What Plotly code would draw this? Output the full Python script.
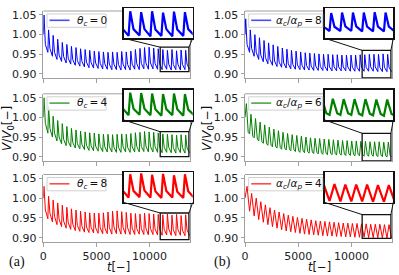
import plotly.graph_objects as go

W, H = 399, 275

# ---------------- data ----------------
cycle_t = [0, 430, 860, 1290, 1720, 2150, 2580, 3010, 3440, 3870, 4300, 4730,
           5160, 5590, 6020, 6450, 6880, 7310, 7740, 8170, 8600, 9030, 9460,
           9890, 10320, 10750, 11180, 11610, 12040, 12470, 12900, 13330]
t_end = 13760

a1_trough = [1.000, 0.955, 0.945, 0.937, 0.932, 0.928, 0.925, 0.922, 0.920, 0.918, 0.916, 0.915, 0.914, 0.913, 0.912, 0.911,
             0.911, 0.910, 0.911, 0.910, 0.912, 0.911, 0.913, 0.912, 0.913, 0.912, 0.911, 0.912, 0.910, 0.911, 0.910, 0.911, 0.912]
a1_peak = [1.050, 1.012, 0.998, 0.988, 0.980, 0.975, 0.970, 0.967, 0.964, 0.962, 0.960, 0.958, 0.957, 0.956, 0.955, 0.956,
           0.955, 0.957, 0.956, 0.958, 0.962, 0.965, 0.967, 0.968, 0.966, 0.964, 0.962, 0.960, 0.962, 0.959, 0.961, 0.960]
a1_shoulder = [0.975, 0.965, 0.955, 0.948, 0.944, 0.940, 0.936, 0.934, 0.932, 0.930, 0.929, 0.928, 0.927, 0.926, 0.925, 0.925,
               0.924, 0.925, 0.924, 0.925, 0.926, 0.927, 0.928, 0.928, 0.927, 0.926, 0.925, 0.925, 0.924, 0.925, 0.924, 0.925]

a2_trough = [1.000, 0.960, 0.950, 0.940, 0.933, 0.928, 0.925, 0.922, 0.920, 0.918, 0.916, 0.915, 0.914, 0.913, 0.912, 0.912,
             0.911, 0.911, 0.912, 0.911, 0.912, 0.912, 0.913, 0.912, 0.912, 0.911, 0.910, 0.911, 0.910, 0.909, 0.910, 0.909, 0.910]
a2_peak = [1.050, 1.028, 1.003, 0.992, 0.984, 0.977, 0.972, 0.968, 0.965, 0.963, 0.961, 0.960, 0.958, 0.957, 0.957, 0.956,
           0.957, 0.958, 0.957, 0.959, 0.961, 0.962, 0.964, 0.963, 0.962, 0.960, 0.958, 0.957, 0.956, 0.955, 0.956, 0.955]
a2_shoulder = [0.985, 0.972, 0.960, 0.950, 0.944, 0.939, 0.936, 0.933, 0.931, 0.929, 0.928, 0.927, 0.926, 0.925, 0.925, 0.924,
               0.924, 0.925, 0.924, 0.925, 0.926, 0.926, 0.927, 0.926, 0.926, 0.925, 0.924, 0.924, 0.923, 0.923, 0.923, 0.922]

a3_trough = [1.000, 0.948, 0.940, 0.933, 0.928, 0.924, 0.921, 0.918, 0.916, 0.914, 0.913, 0.912, 0.911, 0.910, 0.910, 0.909,
             0.910, 0.909, 0.909, 0.908, 0.908, 0.909, 0.908, 0.907, 0.908, 0.907, 0.906, 0.907, 0.906, 0.905, 0.906, 0.905, 0.905]
a3_peak = [1.030, 1.005, 0.995, 0.988, 0.982, 0.977, 0.973, 0.970, 0.967, 0.965, 0.963, 0.962, 0.962, 0.963, 0.965, 0.967,
           0.968, 0.966, 0.964, 0.962, 0.961, 0.960, 0.962, 0.961, 0.960, 0.959, 0.958, 0.960, 0.957, 0.959, 0.956, 0.958]
a3_shoulder = [0.970, 0.962, 0.954, 0.947, 0.942, 0.938, 0.934, 0.931, 0.929, 0.927, 0.926, 0.925, 0.925, 0.925, 0.926, 0.927,
               0.927, 0.926, 0.925, 0.924, 0.923, 0.923, 0.924, 0.923, 0.922, 0.922, 0.921, 0.922, 0.920, 0.921, 0.919, 0.920]

b1_trough = [1.000, 0.955, 0.945, 0.937, 0.931, 0.926, 0.922, 0.919, 0.917, 0.915, 0.913, 0.912, 0.911, 0.910, 0.910, 0.909,
             0.909, 0.909, 0.908, 0.908, 0.908, 0.908, 0.908, 0.907, 0.907, 0.907, 0.907, 0.907, 0.907, 0.906, 0.906, 0.906, 0.906]
b1_peak = [1.040, 1.012, 1.000, 0.992, 0.985, 0.979, 0.974, 0.970, 0.966, 0.963, 0.960, 0.958, 0.956, 0.954, 0.953, 0.952,
           0.951, 0.950, 0.950, 0.949, 0.949, 0.948, 0.948, 0.948, 0.948, 0.949, 0.949, 0.950, 0.950, 0.950, 0.951, 0.950]
b1_shoulder = [0.975, 0.965, 0.955, 0.948, 0.942, 0.937, 0.933, 0.930, 0.928, 0.926, 0.924, 0.923, 0.922, 0.921, 0.920, 0.920,
               0.919, 0.919, 0.918, 0.918, 0.918, 0.918, 0.918, 0.917, 0.917, 0.917, 0.917, 0.918, 0.918, 0.917, 0.917, 0.917]

b2_trough = [1.000, 0.958, 0.948, 0.940, 0.934, 0.929, 0.925, 0.922, 0.919, 0.917, 0.915, 0.913, 0.911, 0.910, 0.909, 0.908,
             0.907, 0.906, 0.905, 0.905, 0.904, 0.904, 0.903, 0.903, 0.902, 0.902, 0.901, 0.901, 0.901, 0.900, 0.900, 0.899, 0.899]
b2_peak = [1.035, 1.008, 0.997, 0.988, 0.981, 0.975, 0.970, 0.966, 0.962, 0.959, 0.956, 0.954, 0.952, 0.950, 0.948, 0.947,
           0.946, 0.945, 0.944, 0.943, 0.942, 0.941, 0.941, 0.940, 0.940, 0.939, 0.939, 0.938, 0.938, 0.938, 0.937, 0.937]
b2_shoulder = [0.962, 0.952, 0.944, 0.938, 0.933, 0.929, 0.926, 0.923, 0.921, 0.919, 0.917, 0.915, 0.914, 0.913, 0.912, 0.911,
               0.910, 0.909, 0.909, 0.908, 0.908, 0.907, 0.907, 0.906, 0.906, 0.905, 0.905, 0.905, 0.904, 0.904, 0.903, 0.903]

b3_trough = [1.000, 0.967, 0.955, 0.946, 0.939, 0.933, 0.928, 0.924, 0.920, 0.917, 0.915, 0.913, 0.911, 0.909, 0.908, 0.907,
             0.906, 0.905, 0.904, 0.904, 0.903, 0.903, 0.902, 0.902, 0.901, 0.901, 0.901, 0.900, 0.900, 0.900, 0.899, 0.899, 0.899]
b3_peak = [1.030, 1.012, 1.000, 0.991, 0.983, 0.976, 0.970, 0.965, 0.961, 0.957, 0.954, 0.951, 0.949, 0.947, 0.945, 0.943,
           0.942, 0.941, 0.940, 0.939, 0.938, 0.937, 0.937, 0.936, 0.936, 0.935, 0.935, 0.934, 0.934, 0.934, 0.933, 0.933]
b3_shoulder = [0.998, 0.990, 0.978, 0.969, 0.961, 0.955, 0.949, 0.944, 0.940, 0.936, 0.933, 0.931, 0.929, 0.927, 0.925, 0.924,
               0.923, 0.922, 0.921, 0.920, 0.920, 0.919, 0.919, 0.918, 0.918, 0.918, 0.917, 0.917, 0.917, 0.916, 0.916, 0.916]

TS = "\u2009"
legend_labels = [f"<i>θ</i><sub><i>c</i></sub>{TS}={TS}0", f"<i>θ</i><sub><i>c</i></sub>{TS}={TS}4",
                 f"<i>θ</i><sub><i>c</i></sub>{TS}={TS}8",
                 f"<i>α</i><sub><i>c</i></sub>/<i>α</i><sub><i>p</i></sub>{TS}={TS}8",
                 f"<i>α</i><sub><i>c</i></sub>/<i>α</i><sub><i>p</i></sub>{TS}={TS}6",
                 f"<i>α</i><sub><i>c</i></sub>/<i>α</i><sub><i>p</i></sub>{TS}={TS}4"]
x_ticks = [0, 5000, 10000]
x_ticktext = ["0", "5000", "10000"]
y_ticks = [0.90, 0.95, 1.00, 1.05]
y_ticktext = ["0.90", "0.95", "1.00", "1.05"]
zoom_t = [11000, 13700]
zoom_v = [[0.906, 0.968], [0.900, 0.9635], [0.895, 0.9625],
          [0.890, 0.960], [0.889, 0.9595], [0.898, 0.9585]]

# ---------------- styling / layout ----------------
XR = [0, 13850]
YR = [0.889, 1.060]
FONT = "DejaVu Sans"
SPINE = "#a0a0a0"
col_px = [(43.3, 190.5), (245.0, 392.5)]
row_px = [(11.0, 78.3), (93.8, 161.0), (174.5, 242.0)]
ins_col_px = [(124.0, 192.7), (325.0, 393.3)]
ins_row_px = [(8.3, 38.3), (90.0, 120.0), (172.3, 202.5)]

panels = [
    dict(col=0, row=0, color="#0000ff", tr=a1_trough, pk=a1_peak, sh=a1_shoulder, fp=0.15, fs=0.45),
    dict(col=0, row=1, color="#008000", tr=a2_trough, pk=a2_peak, sh=a2_shoulder, fp=0.15, fs=0.45),
    dict(col=0, row=2, color="#ff0000", tr=a3_trough, pk=a3_peak, sh=a3_shoulder, fp=0.15, fs=0.45),
    dict(col=1, row=0, color="#0000ff", tr=b1_trough, pk=b1_peak, sh=b1_shoulder, fp=0.15, fs=0.45),
    dict(col=1, row=1, color="#008000", tr=b2_trough, pk=b2_peak, sh=b2_shoulder, fp=0.30, fs=0.70),
    dict(col=1, row=2, color="#ff0000", tr=b3_trough, pk=b3_peak, sh=b3_shoulder, fp=0.45, fs=0.72),
]


def px(x):
    return x / W


def py(y):
    return 1 - y / H


def build_series(tr, pk, sh, fp, fs):
    ts, vs = [], []
    for k, t0 in enumerate(cycle_t):
        nxt = cycle_t[k + 1] if k + 1 < len(cycle_t) else t_end
        p = nxt - t0
        ts += [t0, t0 + fp * p, t0 + fs * p]
        vs += [tr[k], pk[k], sh[k]]
    ts.append(t_end)
    vs.append(tr[-1])
    return ts, vs


fig = go.Figure()
layout = {}
shapes = []
annotations = []

for i, p in enumerate(panels):
    n_main = i + 1
    n_ins = i + 7
    ts, vs = build_series(p["tr"], p["pk"], p["sh"], p["fp"], p["fs"])
    fig.add_trace(go.Scatter(x=ts, y=vs, mode="lines", line=dict(color=p["color"], width=1.0),
                             xaxis=f"x{n_main}", yaxis=f"y{n_main}", showlegend=False, hoverinfo="skip"))
    fig.add_trace(go.Scatter(x=ts, y=vs, mode="lines", line=dict(color=p["color"], width=2.2),
                             xaxis=f"x{n_ins}", yaxis=f"y{n_ins}", showlegend=False, hoverinfo="skip"))

    cx0, cx1 = col_px[p["col"]]
    ry0, ry1 = row_px[p["row"]]
    ix0, ix1 = ins_col_px[p["col"]]
    iy0, iy1 = ins_row_px[p["row"]]
    xk = "xaxis" if n_main == 1 else f"xaxis{n_main}"
    yk = "yaxis" if n_main == 1 else f"yaxis{n_main}"
    bottom = p["row"] == 2
    layout[xk] = dict(domain=[px(cx0), px(cx1)], anchor=f"y{n_main}", range=XR, showgrid=False, zeroline=False,
                      showline=True, mirror=False, linecolor=SPINE, linewidth=1, automargin=False,
                      ticks="outside", ticklen=3.5, tickcolor=SPINE, tickvals=x_ticks, ticktext=x_ticktext,
                      showticklabels=bottom, tickfont=dict(family=FONT, size=11, color="#222"))
    layout[yk] = dict(domain=[py(ry1), py(ry0)], anchor=f"x{n_main}", range=YR, showgrid=False, zeroline=False,
                      showline=True, mirror=False, linecolor=SPINE, linewidth=1, automargin=False,
                      ticks="outside", ticklen=3.5, tickcolor=SPINE, tickvals=y_ticks, ticktext=y_ticktext,
                      tickfont=dict(family=FONT, size=11, color="#222"))
    # top and right spines, only where the inset does not cover them
    shapes.append(dict(type="line", xref="paper", yref="paper", x0=px(cx0), x1=px(ix0), y0=py(ry0), y1=py(ry0),
                       line=dict(color=SPINE, width=1), layer="below"))
    shapes.append(dict(type="line", xref="paper", yref="paper", x0=px(cx1), x1=px(cx1), y0=py(iy1), y1=py(ry1),
                       line=dict(color=SPINE, width=1), layer="below"))
    zv = zoom_v[i]
    layout[f"xaxis{n_ins}"] = dict(domain=[px(ix0), px(ix1)], anchor=f"y{n_ins}", range=zoom_t, showgrid=False,
                                   zeroline=False, showline=True, mirror=True, linecolor="#111", linewidth=1.6,
                                   ticks="", showticklabels=False, automargin=False)
    layout[f"yaxis{n_ins}"] = dict(domain=[py(iy1), py(iy0)], anchor=f"x{n_ins}", range=zv, showgrid=False,
                                   zeroline=False, showline=True, mirror=True, linecolor="#111", linewidth=1.6,
                                   ticks="", showticklabels=False, automargin=False)
    # zoom box in the main axes
    shapes.append(dict(type="rect", xref=f"x{n_main}", yref=f"y{n_main}", x0=zoom_t[0], x1=zoom_t[1],
                       y0=zv[0], y1=zv[1], line=dict(color="#111", width=1.3), layer="above"))
    # connectors
    bx0 = cx0 + (zoom_t[0] - XR[0]) / (XR[1] - XR[0]) * (cx1 - cx0)
    bx1 = cx0 + (zoom_t[1] - XR[0]) / (XR[1] - XR[0]) * (cx1 - cx0)
    by = ry1 - (zv[1] - YR[0]) / (YR[1] - YR[0]) * (ry1 - ry0)
    shapes.append(dict(type="line", xref="paper", yref="paper", x0=px(ix0), y0=py(iy1), x1=px(bx0), y1=py(by),
                       line=dict(color="#111", width=1), layer="above"))
    shapes.append(dict(type="line", xref="paper", yref="paper", x0=px(ix1), y0=py(iy1), x1=px(bx1), y1=py(by),
                       line=dict(color="#111", width=1), layer="above"))
    # legend box
    lw = 59 if p["col"] == 0 else 74
    lx0 = cx0 + 3.7
    shapes.append(dict(type="rect", xref="paper", yref="paper", x0=px(lx0), x1=px(lx0 + lw),
                       y0=py(ry0 + 16.3), y1=py(ry0 + 3), fillcolor="rgba(255,255,255,0.85)",
                       line=dict(color="#d0d0d0", width=1), layer="above"))
    shapes.append(dict(type="line", xref="paper", yref="paper", x0=px(lx0 + 2.5), x1=px(lx0 + 22.5),
                       y0=py(ry0 + 9.3), y1=py(ry0 + 9.3), line=dict(color=p["color"], width=1.6), layer="above",
                       opacity=0.7))
    annotations.append(dict(xref="paper", yref="paper", x=px(lx0 + 28 if p["col"] == 0 else lx0 + 25),
                            y=py(ry0 + 9.6), xanchor="left", yanchor="middle", showarrow=False,
                            text=legend_labels[i], font=dict(family=FONT, size=10.5, color="#111")))

annotations += [
    dict(xref="paper", yref="paper", x=px(8), y=py(129), textangle=-90, showarrow=False,
         xanchor="center", yanchor="middle",
         text="<i>V</i>/<i>V</i><sub>0</sub>[−]", font=dict(family=FONT, size=12, color="#111")),
    dict(xref="paper", yref="paper", x=px(208), y=py(129), textangle=-90, showarrow=False,
         xanchor="center", yanchor="middle",
         text="<i>V</i>/<i>V</i><sub>0</sub>[−]", font=dict(family=FONT, size=12, color="#111")),
    dict(xref="paper", yref="paper", x=px(118), y=py(267), showarrow=False, xanchor="center", yanchor="middle",
         text="<i>t</i>[−]", font=dict(family=FONT, size=11.5, color="#111")),
    dict(xref="paper", yref="paper", x=px(319), y=py(267), showarrow=False, xanchor="center", yanchor="middle",
         text="<i>t</i>[−]", font=dict(family=FONT, size=11.5, color="#111")),
    dict(xref="paper", yref="paper", x=px(17), y=py(262), showarrow=False, xanchor="center", yanchor="middle",
         text="(a)", font=dict(family="Liberation Serif", size=14, color="#111")),
    dict(xref="paper", yref="paper", x=px(222), y=py(262), showarrow=False, xanchor="center", yanchor="middle",
         text="(b)", font=dict(family="Liberation Serif", size=14, color="#111")),
]

fig.update_layout(**layout)
fig.update_layout(template="none", width=W, height=H, margin=dict(l=0, r=0, t=0, b=0, autoexpand=False),
                  showlegend=False, plot_bgcolor="white", paper_bgcolor="white", shapes=shapes,
                  annotations=annotations, font=dict(family=FONT))
fig.write_html("out.html", config={"displayModeBar": False, "staticPlot": True},
               post_script="document.body.style.margin='0px';document.body.style.padding='0px';"
                           "document.body.style.overflow='hidden';")
